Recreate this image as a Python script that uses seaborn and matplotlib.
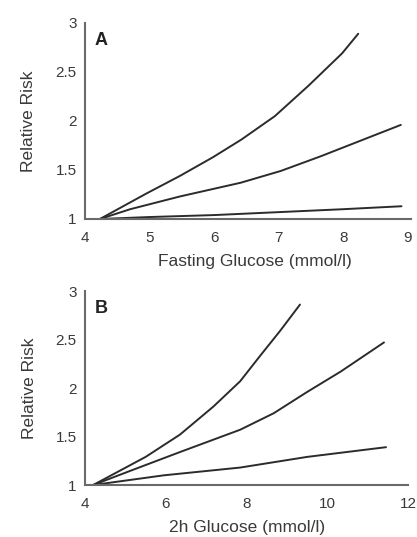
import pandas as pd
import numpy as np
import matplotlib
matplotlib.use("Agg")
import matplotlib.pyplot as plt
import seaborn as sns

sns.set_style("white")
plt.rcParams['font.family'] = ['Liberation Sans', 'DejaVu Sans']

# -------------------------
# Data
# -------------------------
# Panel A - fasting glucose
fast_x_high = [4.23, 4.95, 5.47, 5.98, 6.42, 6.94, 7.46, 7.98, 8.23]
fast_rr_high = [1.0, 1.26, 1.44, 1.63, 1.81, 2.05, 2.36, 2.69, 2.89]
fast_x_mid = [4.23, 4.70, 5.47, 6.41, 7.03, 7.65, 8.27, 8.89]
fast_rr_mid = [1.0, 1.10, 1.23, 1.37, 1.49, 1.64, 1.80, 1.96]
fast_x_low = [4.23, 5.0, 6.0, 7.0, 8.0, 8.9]
fast_rr_low = [1.0, 1.02, 1.04, 1.07, 1.10, 1.13]

# Panel B - 2h glucose
twoh_x_high = [4.2, 5.5, 6.35, 7.18, 7.84, 8.33, 8.83, 9.32]
twoh_rr_high = [1.0, 1.29, 1.52, 1.81, 2.07, 2.33, 2.59, 2.86]
twoh_x_mid = [4.2, 5.08, 6.35, 7.84, 8.67, 9.5, 10.33, 11.4]
twoh_rr_mid = [1.0, 1.14, 1.34, 1.57, 1.74, 1.96, 2.17, 2.47]
twoh_x_low = [4.2, 5.95, 7.84, 9.5, 11.45]
twoh_rr_low = [1.0, 1.10, 1.18, 1.29, 1.39]


def long_df(series):
    rows = []
    for name, xs, ys in series:
        for x, y in zip(xs, ys):
            rows.append({'curve': name, 'glucose': x, 'rr': y})
    return pd.DataFrame(rows)


df_a = long_df([('high', fast_x_high, fast_rr_high),
                ('mid', fast_x_mid, fast_rr_mid),
                ('low', fast_x_low, fast_rr_low)])
df_b = long_df([('high', twoh_x_high, twoh_rr_high),
                ('mid', twoh_x_mid, twoh_rr_mid),
                ('low', twoh_x_low, twoh_rr_low)])

fig = plt.figure(figsize=(4.17, 5.37), dpi=100)
ax_a = fig.add_axes([0.204, 0.5922, 0.782, 0.365])
ax_b = fig.add_axes([0.204, 0.0968, 0.775, 0.3613])

pal = {'high': '#2b2b2b', 'mid': '#2b2b2b', 'low': '#2b2b2b'}
txt = '#3a3a3a'


def style_panel(ax, xlim, xticks, xlabel, letter, xlab_x):
    ax.set_xlim(*xlim)
    ax.set_ylim(1, 3)
    ax.set_xticks(xticks)
    ax.set_xticklabels([str(t) for t in xticks])
    ax.set_yticks([1, 1.5, 2, 2.5, 3])
    ax.set_yticklabels(['1', '1.5', '2', '2.5', '3'])
    ax.tick_params(length=0, labelsize=11, colors=txt)
    ax.tick_params(axis='x', pad=8.5)
    ax.tick_params(axis='y', pad=6)
    ax.set_xlabel(xlabel, fontsize=12.5, color=txt)
    ax.set_ylabel('Relative Risk', fontsize=12.5, color=txt)
    ax.xaxis.set_label_coords(xlab_x, -0.18)
    ax.yaxis.set_label_coords(-0.15, 0.5)
    for s in ['top', 'right']:
        ax.spines[s].set_visible(False)
    for s in ['left', 'bottom']:
        ax.spines[s].set_color('#6a6a6a')
        ax.spines[s].set_linewidth(1.5)
    ax.text(0.03, 0.955, letter, transform=ax.transAxes, fontsize=13,
            fontweight='bold', color='#222222', va='top', ha='left')


sns.lineplot(data=df_a, x='glucose', y='rr', hue='curve', palette=pal,
             linewidth=1.4, ax=ax_a, legend=False)
sns.lineplot(data=df_b, x='glucose', y='rr', hue='curve', palette=pal,
             linewidth=1.4, ax=ax_b, legend=False)

style_panel(ax_a, (4, 9.05), [4, 5, 6, 7, 8, 9], 'Fasting Glucose (mmol/l)', 'A', 0.52)
style_panel(ax_b, (4, 12), [4, 6, 8, 10, 12], '2h Glucose (mmol/l)', 'B', 0.5)

plt.savefig("out.png", dpi=100)
plt.close()
